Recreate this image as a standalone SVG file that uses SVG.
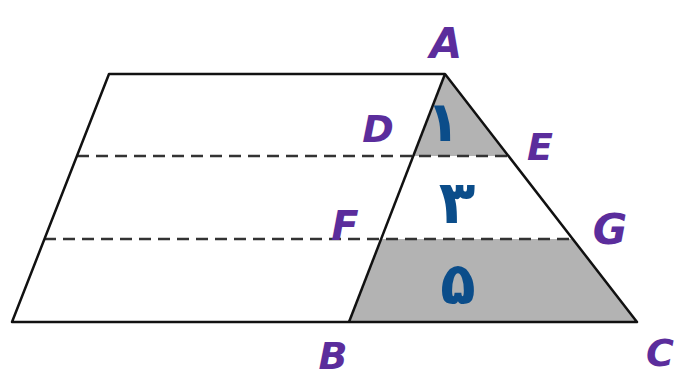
<svg xmlns="http://www.w3.org/2000/svg" width="685" height="377" viewBox="0 0 685 377">
<style>
.edge{fill:none;stroke:#111;stroke-width:2.5;stroke-linejoin:round}
.dash{fill:none;stroke:#333;stroke-width:2.5;stroke-dasharray:12,7}
.shade{fill:#b3b3b3;stroke:none}
.lbl{font-family:"DejaVu Sans","Liberation Sans",sans-serif;font-style:italic;font-weight:bold;fill:#5b2d9c;text-anchor:middle}
.num{font-family:"DejaVu Sans","Noto Sans",sans-serif;font-weight:bold;fill:#0b4d8a;text-anchor:middle}
</style>
<rect width="685" height="377" fill="#fff"/>
<g id="shading">
<polygon class="shade" points="445,74 413,156 508,156"/>
<polygon class="shade" points="381,239 573,239 637,322 349,322"/>
</g>
<g id="connectors">
<line class="dash" x1="77" y1="156" x2="508" y2="156"/>
<line class="dash" x1="44" y1="239" x2="573" y2="239"/>
</g>
<g id="shape">
<polygon class="edge" points="109,74 445,74 637,322 12,322"/>
<line class="edge" x1="445" y1="74" x2="349" y2="322"/>
</g>
<g id="labels">
<text class="lbl" x="446" y="58" font-size="42">A</text>
<text class="lbl" x="378" y="142" font-size="38">D</text>
<text class="lbl" x="540" y="160" font-size="38">E</text>
<text class="lbl" x="345" y="240" font-size="40">F</text>
<text class="lbl" x="610" y="244" font-size="42">G</text>
<text class="lbl" x="333" y="369" font-size="38">B</text>
<text class="lbl" x="660" y="366" font-size="38">C</text>
<text class="num" x="443" y="141" font-size="56">۱</text>
<text class="num" x="457" y="223" font-size="60">۳</text>
<text class="num" x="458" y="304" font-size="58">۵</text>
</g>
</svg>
